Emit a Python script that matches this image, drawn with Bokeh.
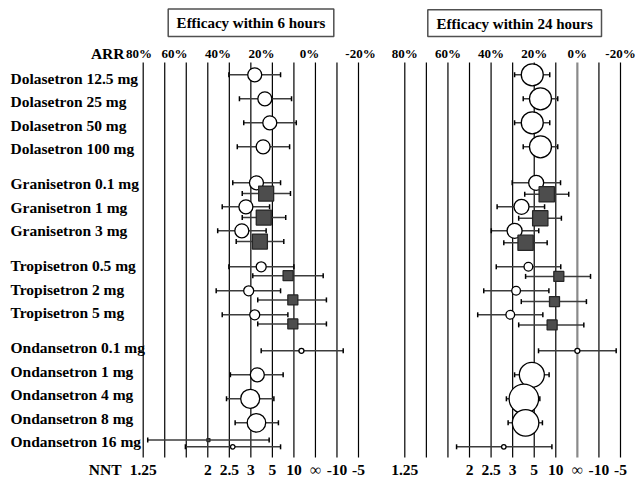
from bokeh.plotting import figure
from bokeh.models import Range1d, ColumnDataSource
from bokeh.core.properties import value
from bokeh.embed import file_html
from bokeh.resources import INLINE

# ---------------- data ----------------
drugs = ["Dolasetron 12.5 mg", "Dolasetron 25 mg", "Dolasetron 50 mg", "Dolasetron 100 mg",
         "Granisetron 0.1 mg", "Granisetron 1 mg", "Granisetron 3 mg",
         "Tropisetron 0.5 mg", "Tropisetron 2 mg", "Tropisetron 5 mg",
         "Ondansetron 0.1 mg", "Ondansetron 1 mg", "Ondansetron 4 mg", "Ondansetron 8 mg",
         "Ondansetron 16 mg"]
group_sizes = [4, 3, 3, 5]

# Efficacy within 6 hours: circles (ARR %, lower CI, upper CI, weight)
c6_arr = [28.2, 23.5, 21.2, 24.3, 27.4, 32.3, 34.2, 25.2, 31.0, 28.2, 6.5, 27.0, 30.3, 27.4, 38.4]
c6_lo = [16.2, 11.1, 8.9, 12.0, 16.2, 21.3, 22.9, 10.0, 16.2, 12.8, -12.9, 15.0, 19.3, 17.2, 16.2]
c6_hi = [40.2, 35.3, 33.3, 36.3, 38.4, 43.3, 45.4, 40.2, 46.1, 43.3, 25.2, 39.5, 41.3, 37.3, 60.4]
c6_w = [14, 14, 14, 14, 14, 14, 14, 10, 10, 10, 5, 14, 19, 18.5, 4.5]
# Efficacy within 6 hours: squares
s6_drug = ["Granisetron 0.1 mg", "Granisetron 1 mg", "Granisetron 3 mg",
           "Tropisetron 0.5 mg", "Tropisetron 2 mg", "Tropisetron 5 mg", "Ondansetron 16 mg"]
s6_arr = [22.9, 24.0, 25.8, 12.7, 10.5, 10.5, 49.7]
s6_lo = [11.6, 13.8, 14.7, -3.6, -5.1, -5.1, 21.5]
s6_hi = [34.0, 34.0, 36.8, 29.1, 26.8, 26.8, 77.9]
s6_w = [15, 15, 15, 10, 10, 10, 3]

# Efficacy within 24 hours: circles
c24_arr = [20.9, 17.1, 20.9, 17.1, 19.1, 25.9, 29.1, 22.7, 28.4, 31.1, 0.0, 21.1, 24.8, 24.0, 34.1]
c24_lo = [12.8, 9.1, 12.8, 9.1, 7.8, 15.2, 17.9, 7.7, 13.2, 16.0, -18.0, 13.1, 17.4, 16.2, 11.8]
c24_hi = [29.1, 25.1, 29.1, 25.1, 30.2, 37.2, 39.9, 37.6, 43.4, 46.2, 18.0, 29.1, 32.9, 32.1, 56.0]
c24_w = [22, 22, 22, 22, 15, 15, 15, 8.7, 8.7, 8.7, 5, 25, 29.5, 26.5, 4.5]
# Efficacy within 24 hours: squares
s24_drug = ["Granisetron 0.1 mg", "Granisetron 1 mg", "Granisetron 3 mg",
            "Tropisetron 0.5 mg", "Tropisetron 2 mg", "Tropisetron 5 mg"]
s24_arr = [14.2, 17.2, 24.0, 8.6, 10.6, 11.7]
s24_lo = [4.0, 7.4, 14.0, -6.1, -4.2, -3.0]
s24_hi = [24.4, 27.2, 34.1, 24.0, 26.0, 27.2]
s24_w = [15.3, 15.3, 15.3, 10, 10, 10]

panel_titles = ["Efficacy within 6 hours", "Efficacy within 24 hours"]
grid_arr = [80, 70, 60, 50, 40, 30, 20, 10, 0, -10, -20]
arr_ticks = [80, 60, 40, 20, 0, -20]
arr_labels = ["80%", "60%", "40%", "20%", "0%", "-20%"]
nnt_ticks = [80, 50, 40, 30, 20, 10, 0, -10, -20]
nnt_labels = ["1.25", "2", "2.5", "3", "5", "10", "\u221e", "-10", "-5"]

# ---------------- layout ----------------
W, H, M = 640, 480, 0
FONT = value("Liberation Serif")


def make_range(va, pa, vb, pb, lo_px, hi_px):
    k = (pb - pa) / (vb - va)
    return va + (lo_px - pa) / k, va + (hi_px - pa) / k


L0, L1 = make_range(80, 142.7, -20, 358.0, M, M + W)
R0, R1 = make_range(80, 404.3, -20, 620.0, M, M + W)
ROW_PX, ROW0_PX = 24.0, 74.3


def xl(px):
    return 80 + (px - 142.7) * (-100) / (358.0 - 142.7)


def xr(px):
    return 80 + (px - 404.3) * (-100) / (620.0 - 404.3)


def yv(px):
    return (px - ROW0_PX) / ROW_PX


p = figure(width=W, height=H, output_backend="svg", toolbar_location=None,
           x_range=Range1d(L0, L1), y_range=Range1d(yv(M + H), yv(M)),
           x_axis_location=None, y_axis_location=None, min_border=0)
p.extra_x_ranges = {"right": Range1d(R0, R1)}
p.grid.visible = False
p.outline_line_color = None
p.background_fill_color = "white"

# row positions
rows = []
r = 0.0
for n in group_sizes:
    for _ in range(n):
        rows.append(r)
        r += 1
    r += 0.5
row_of = dict(zip(drugs, rows))

s6_dy = [0.45, 0.45, 0.45, 0.37, 0.38, 0.38, -0.28]
s24_dy = [0.48, 0.48, 0.5, 0.4, 0.45, 0.42]

# vertical grid lines
yt, yb = yv(62), yv(457)
p.segment(x0=grid_arr, x1=grid_arr, y0=[yt] * len(grid_arr), y1=[yb] * len(grid_arr),
          line_color="black", line_width=1.2)
rc = ["#8a8a8a" if g == 0 else "black" for g in grid_arr]
rw = [2.2 if g == 0 else 1.2 for g in grid_arr]
p.segment(x0=grid_arr, x1=grid_arr, y0=[yt] * len(grid_arr), y1=[yb] * len(grid_arr),
          line_color=rc, line_width=rw, x_range_name="right")

CAP = 2.5 / ROW_PX


def series(arr, lo, hi, w, ys, rng):
    src = ColumnDataSource(dict(x=arr, lo=lo, hi=hi, size=w, y=ys,
                                y0=[y - CAP for y in ys], y1=[y + CAP for y in ys]))
    kw = {} if rng is None else {"x_range_name": rng}
    p.segment(x0="lo", x1="hi", y0="y", y1="y", source=src, line_color="#3c3c3c", line_width=1.5, **kw)
    p.segment(x0="lo", x1="lo", y0="y0", y1="y1", source=src, line_color="black", line_width=1.5, **kw)
    p.segment(x0="hi", x1="hi", y0="y0", y1="y1", source=src, line_color="black", line_width=1.5, **kw)
    return src, kw


for (carr, clo, chi, cw, sdrug, sarr, slo, shi, sw, sdy, rng) in [
        (c6_arr, c6_lo, c6_hi, c6_w, s6_drug, s6_arr, s6_lo, s6_hi, s6_w, s6_dy, None),
        (c24_arr, c24_lo, c24_hi, c24_w, s24_drug, s24_arr, s24_lo, s24_hi, s24_w, s24_dy, "right")]:
    csrc, kw = series(carr, clo, chi, cw, rows, rng)
    sys_ = [row_of[d] + dy for d, dy in zip(sdrug, sdy)]
    ssrc, kw = series(sarr, slo, shi, sw, sys_, rng)
    p.scatter(x="x", y="y", size="size", marker="circle", source=csrc,
              fill_color="white", line_color="black", line_width=1.3, **kw)
    p.scatter(x="x", y="y", size="size", marker="square", source=ssrc,
              fill_color="#4d4d4d", line_color="#262626", line_width=1.3, **kw)

# drug labels
label_y = [yv(78 + 23.42 * rr) for rr in rows]
p.text(x=[xl(10)] * len(drugs), y=label_y, text=drugs, text_font=FONT,
       text_font_style="bold", text_font_size="15.5px", text_align="left",
       text_baseline="middle", text_color="black")

# axis headers
p.text(x=[xl(124), xl(121)], y=[yv(53), yv(469)], text=["ARR", "NNT"], text_font=FONT,
       text_font_style="bold", text_font_size="15.5px", text_align="right",
       text_baseline="middle", text_color="black")

# ARR tick labels (left panel labels sit shifted as in the original)
arr_left_px = [138.5, 174.0, 217.5, 261.0, 309.0, 360.0]
p.text(x=[xl(px) for px in arr_left_px], y=[yv(53)] * len(arr_ticks), text=arr_labels,
       text_font=FONT, text_font_style="bold", text_font_size="13px",
       text_align="center", text_baseline="middle", text_color="black")
p.text(x=arr_ticks, y=[yv(53)] * len(arr_ticks), text=arr_labels,
       text_font=FONT, text_font_style="bold", text_font_size="13px",
       text_align="center", text_baseline="middle", text_color="black", x_range_name="right")

# NNT tick labels
for rng in [None, "right"]:
    kw = {} if rng is None else {"x_range_name": rng}
    p.text(x=nnt_ticks, y=[yv(469)] * len(nnt_ticks), text=nnt_labels,
           text_font=FONT, text_font_style="bold", text_font_size="15.5px",
           text_align="center", text_baseline="middle", text_color="black", **kw)

# title boxes
p.quad(left=[xl(167.7)], right=[xl(333.3)], top=[yv(8.5)], bottom=[yv(36)],
       fill_color="white", line_color="#505050", line_width=1.5)
p.quad(left=[xr(427.3)], right=[xr(601.0)], top=[yv(9.3)], bottom=[yv(36)],
       fill_color="white", line_color="#505050", line_width=1.5, x_range_name="right")
p.text(x=[xl(250.5)], y=[yv(22.5)], text=[panel_titles[0]], text_font=FONT,
       text_font_style="bold", text_font_size="15px", text_align="center",
       text_baseline="middle", text_color="black")
p.text(x=[xr(514.2)], y=[yv(23)], text=[panel_titles[1]], text_font=FONT,
       text_font_style="bold", text_font_size="15px", text_align="center",
       text_baseline="middle", text_color="black", x_range_name="right")

open("out.html", "w").write(file_html(p, INLINE))
